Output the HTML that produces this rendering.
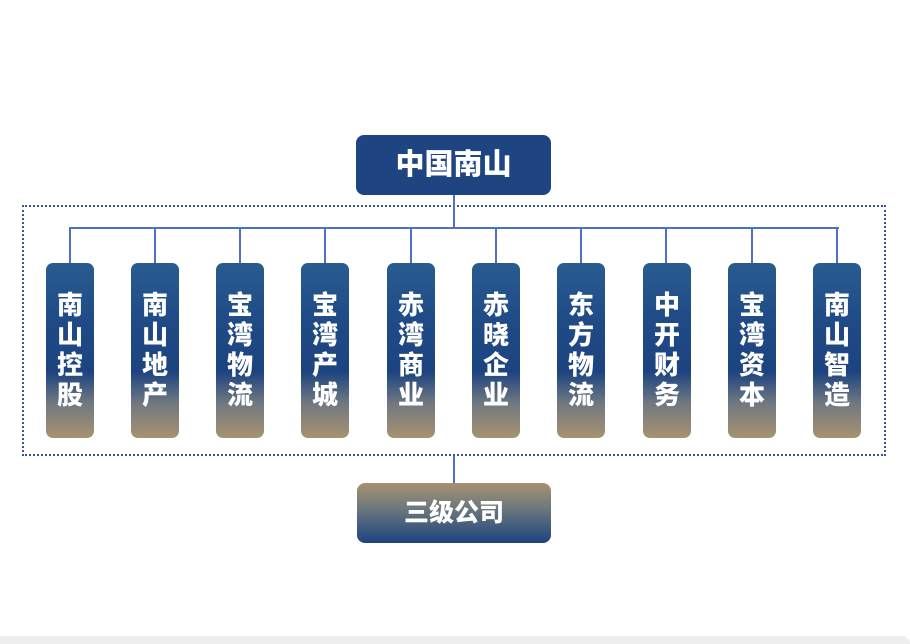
<!DOCTYPE html>
<html><head><meta charset="utf-8"><style>
body{margin:0;width:910px;height:644px;background:#fff;position:relative;overflow:hidden;font-family:"Liberation Sans","Noto Sans CJK SC",sans-serif}
.a{position:absolute}
.col{position:absolute;top:263px;width:48px;height:175px;border-radius:7px;background:linear-gradient(#285b8f 0%,#1f4a86 35%,#1c4380 62%,#6f7880 80%,#a89270 100%);color:#fff;font-weight:900;font-size:26px;line-height:30px;text-align:center;box-sizing:border-box;padding-top:27px}
.v{position:absolute;top:228px;width:2px;height:35px;background:#4f6fc8}
</style></head><body>
<div class="a" style="left:0;top:636px;width:910px;height:8px;background:#eeeeef;border-radius:0 12px 0 0"></div>
<div class="a" style="left:22px;top:205px;width:864px;height:251px;border:2px dotted #3a5596;box-sizing:border-box"></div>
<div class="a" style="left:356px;top:135px;width:195px;height:60px;border-radius:8px;background:#1e4482;color:#fff;font-weight:900;font-size:29px;line-height:60px;text-align:center">中国南山</div>
<div class="a" style="left:453px;top:195px;width:2px;height:34px;background:#4f6fc8"></div>
<div class="a" style="left:69px;top:227px;width:770px;height:2px;background:#4f6fc8"></div>
<div class="a" style="left:453px;top:456px;width:2px;height:27px;background:#4f6fc8"></div>
<div class="a" style="left:357px;top:483px;width:194px;height:60px;border-radius:8px;background:linear-gradient(#a89270 0%,#6f7a7c 40%,#1c4380 100%);color:#fff;font-weight:900;font-size:25px;line-height:60px;text-align:center">三级公司</div>
<div class="v" style="left:69px"></div><div class="col" style="left:46px">南<br>山<br>控<br>股</div>
<div class="v" style="left:154px"></div><div class="col" style="left:131px">南<br>山<br>地<br>产</div>
<div class="v" style="left:239px"></div><div class="col" style="left:216px">宝<br>湾<br>物<br>流</div>
<div class="v" style="left:324px"></div><div class="col" style="left:301px">宝<br>湾<br>产<br>城</div>
<div class="v" style="left:410px"></div><div class="col" style="left:387px">赤<br>湾<br>商<br>业</div>
<div class="v" style="left:495px"></div><div class="col" style="left:472px">赤<br>晓<br>企<br>业</div>
<div class="v" style="left:580px"></div><div class="col" style="left:557px">东<br>方<br>物<br>流</div>
<div class="v" style="left:665px"></div><div class="col" style="left:643px">中<br>开<br>财<br>务</div>
<div class="v" style="left:751px"></div><div class="col" style="left:728px">宝<br>湾<br>资<br>本</div>
<div class="v" style="left:836px"></div><div class="col" style="left:813px">南<br>山<br>智<br>造</div>
</body></html>
